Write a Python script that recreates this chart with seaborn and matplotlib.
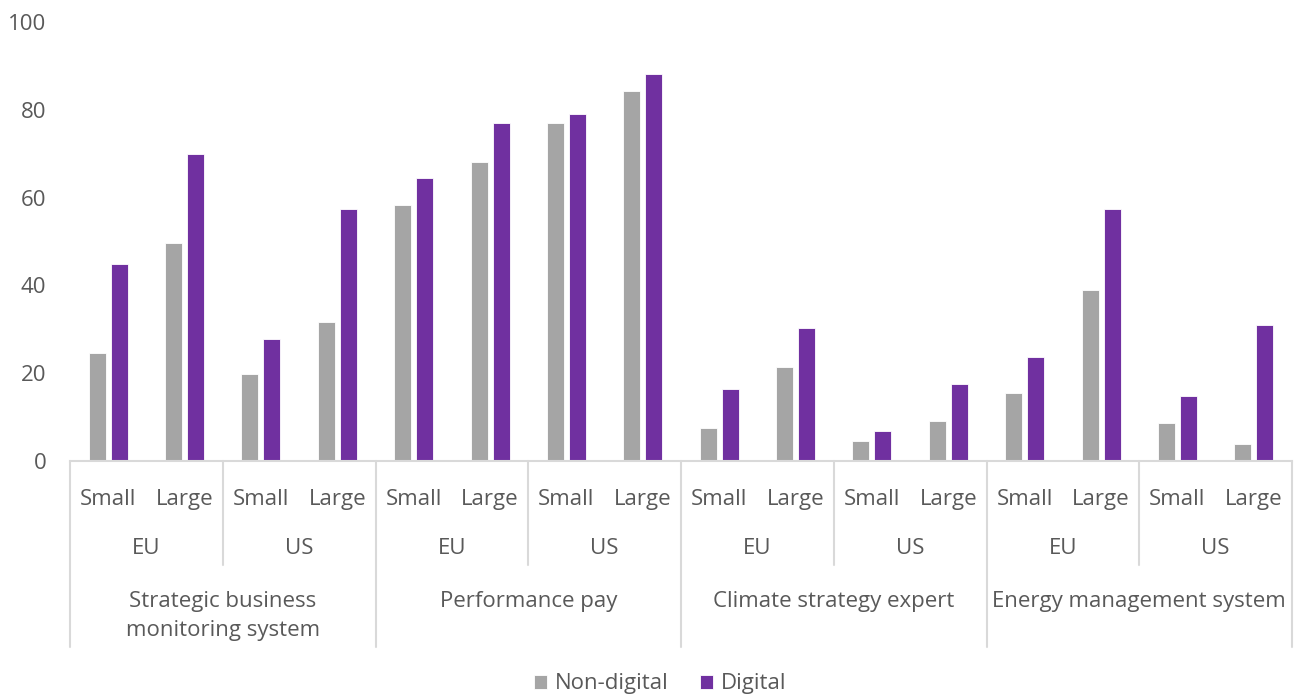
import matplotlib

matplotlib.use("Agg")
import matplotlib.pyplot as plt  # noqa: E402
import matplotlib.transforms as mtransforms  # noqa: E402
import pandas as pd  # noqa: E402
import seaborn as sns  # noqa: E402

# 数据
groups = [
    "Strategic business\nmonitoring system",
    "Performance pay",
    "Climate strategy expert",
    "Energy management system",
]
regions = ["EU", "US"]
sizes = ["Small", "Large"]
series = ["Non-digital", "Digital"]
non_digital = [24.5, 49.6, 19.9, 31.7, 58.4, 68.1, 76.9, 84.2,
               7.6, 21.3, 4.5, 9.0, 15.5, 39.0, 8.7, 3.8]
digital = [44.9, 70.0, 27.7, 57.5, 64.4, 76.9, 79.1, 88.1,
           16.3, 30.3, 6.8, 17.5, 23.6, 57.5, 14.9, 31.0]
y_ticks = [0, 20, 40, 60, 80, 100]

GREY = "#A5A5A5"
PURPLE = "#7030A0"
TEXT = "#595959"
LINE = "#D9D9D9"
FONT = 16


def build_frame():
    order, rows = [], []
    i = 0
    for g in groups:
        for r in regions:
            for s in sizes:
                key = f"{g}|{r}|{s}"
                order.append(key)
                rows.append({"cat": key, "series": series[0], "value": non_digital[i]})
                rows.append({"cat": key, "series": series[1], "value": digital[i]})
                i += 1
    return pd.DataFrame(rows), order


def main():
    df, order = build_frame()
    sns.set_style("white")
    plt.rcParams["font.family"] = ["Open Sans", "DejaVu Sans"]

    fig = plt.figure(figsize=(12.95, 6.97), dpi=100)
    ax = fig.add_axes([70 / 1295, 1 - 461 / 697, 1222 / 1295, 439 / 697])

    sns.barplot(ax=ax, data=df, x="cat", y="value", hue="series", order=order,
                hue_order=series, palette=[GREY, PURPLE], width=0.576, gap=0.227,
                saturation=1, edgecolor="white", linewidth=0.6)

    ax.set_ylim(0, 100)
    ax.set_xlim(-0.5, len(order) - 0.5)
    ax.set_yticks(y_ticks)
    ax.set_yticklabels([str(t) for t in y_ticks])
    ax.set_xticks(range(len(order)))
    ax.set_xticklabels([k.split("|")[2] for k in order])
    ax.tick_params(axis="y", length=0, pad=17, labelsize=FONT, labelcolor=TEXT)
    ax.tick_params(axis="x", length=0, pad=20.5, labelsize=FONT, labelcolor=TEXT)
    ax.set_xlabel("")
    ax.set_ylabel("")
    for side in ["left", "right", "top"]:
        ax.spines[side].set_visible(False)
    ax.spines["bottom"].set_color(LINE)
    ax.spines["bottom"].set_linewidth(1.5)

    # 多级分类标签
    trans = mtransforms.blended_transform_factory(ax.transData, ax.transAxes)
    h = 439.0

    def ay(py):
        return (461 - py) / h

    n = len(sizes)
    for gi, g in enumerate(groups):
        g0 = gi * len(regions) * n
        for ri, r in enumerate(regions):
            r0 = g0 + ri * n
            ax.text(r0 + (n - 1) / 2, ay(549), r, transform=trans, ha="center",
                    va="center", fontsize=FONT, color=TEXT)
            if ri > 0:
                ax.plot([r0 - 0.5, r0 - 0.5], [0, ay(565)], transform=trans,
                        color=LINE, lw=1.5, clip_on=False)
        ax.text(g0 + (len(regions) * n - 1) / 2, ay(591), g, transform=trans,
                ha="center", va="top", fontsize=FONT, color=TEXT, linespacing=1.5)
    for gi in range(len(groups) + 1):
        x = gi * len(regions) * n - 0.5
        ax.plot([x, x], [0, ay(647)], transform=trans, color=LINE, lw=1.5,
                clip_on=False)

    sns.move_legend(ax, "center", bbox_to_anchor=((660 - 70) / 1222, ay(684)),
                    ncol=2, frameon=False, title=None, fontsize=FONT,
                    handlelength=0.6, handleheight=0.6, handletextpad=0.35,
                    columnspacing=1.4)
    leg = ax.get_legend()
    for t in leg.get_texts():
        t.set_color(TEXT)

    fig.savefig("out.png", dpi=100)
    plt.close(fig)


if __name__ == "__main__":
    main()
